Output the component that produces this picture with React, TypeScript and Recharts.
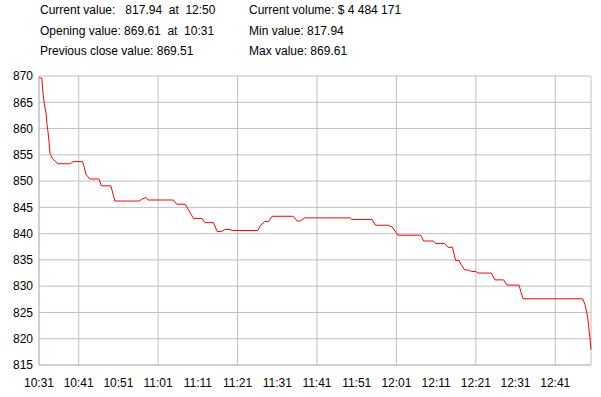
import React from 'react';
import { LineChart, Line, XAxis, YAxis, CartesianGrid } from 'recharts';

// minutes after 10:31 and index value
const minutes = [
  0, 0.7, 1.0, 1.3, 1.8, 2.0, 2.3, 2.5, 2.8, 3.5, 4.8, 7.9, 8.6, 11.0, 11.4, 11.8, 12.8, 15.1, 15.7, 18.1,
  19.1, 25.2, 25.8, 26.9, 27.5, 33.8, 34.7, 36.8, 38.9, 41.0, 41.8, 43.9, 44.9, 45.9, 46.9, 48.1, 48.6, 55.1,
  55.7, 56.8, 57.8, 58.7, 64.0, 65.0, 65.8, 66.9, 78.4, 78.7, 83.9, 84.7, 87.9, 88.9, 90.4, 96.1, 96.9, 99.3,
  99.9, 102.1, 103.0, 104.1, 104.9, 105.8, 106.2, 107.2, 108.0, 108.9, 110.0, 110.6, 113.9, 114.8, 117.0,
  117.8, 120.9, 121.3, 121.9, 136.9, 137.5, 138.2, 138.7, 139,
];

const prices = [
  869.61, 869.61, 866.8, 864.9, 862.8, 860.9, 859.2, 857.6, 855.1, 854.2, 853.3, 853.3, 853.7, 853.7, 852.6,
  851.3, 850.4, 850.4, 849.1, 849.1, 846.2, 846.2, 846.5, 846.9, 846.4, 846.4, 845.6, 845.6, 842.9, 842.9,
  842.1, 842.1, 840.4, 840.4, 840.8, 840.8, 840.6, 840.6, 841.5, 842.3, 842.3, 843.3, 843.3, 842.4, 842.4,
  843.0, 843.0, 842.7, 842.7, 841.6, 841.6, 841.3, 839.7, 839.7, 838.6, 838.6, 838.1, 838.1, 837.4, 837.4,
  834.9, 834.9, 834.2, 833.1, 833.1, 832.8, 832.8, 832.5, 832.5, 831.2, 831.2, 830.2, 830.2, 829.0, 827.6,
  827.6, 826.5, 823.9, 820.4, 817.94,
];

const xTicks = [0, 10, 20, 30, 40, 50, 60, 70, 80, 90, 100, 110, 120, 130];
const xTickLabels = [
  '10:31', '10:41', '10:51', '11:01', '11:11', '11:21', '11:31',
  '11:41', '11:51', '12:01', '12:11', '12:21', '12:31', '12:41',
];
const yTicks = [815, 820, 825, 830, 835, 840, 845, 850, 855, 860, 865, 870];

const infoLeft = [
  'Current value:   817.94  at  12:50',
  'Opening value: 869.61  at  10:31',
  'Previous close value: 869.51',
];
const infoRight = ['Current volume: $ 4 484 171', 'Min value: 817.94', 'Max value: 869.61'];

const data = minutes.map((m, i) => ({ t: m, value: prices[i] }));

const font = '"Liberation Sans", Arial, sans-serif';

export default function App() {
  return (
    <div style={{ position: 'absolute', left: 0, top: 0, width: 601, height: 397, background: '#fff', fontFamily: font }}>
      {infoLeft.map((s, i) => (
        <div
          key={s}
          style={{ position: 'absolute', left: 40, top: 3 + i * 20.5, fontSize: 12, lineHeight: '14px', whiteSpace: 'pre', color: '#000' }}
        >
          {s}
        </div>
      ))}
      {infoRight.map((s, i) => (
        <div
          key={s}
          style={{ position: 'absolute', left: 249, top: 3 + i * 20.5, fontSize: 12, lineHeight: '14px', whiteSpace: 'pre', color: '#000' }}
        >
          {s}
        </div>
      ))}
      <LineChart width={601} height={397} data={data} margin={{ top: 76, right: 10, left: 0, bottom: 2 }}>
        <CartesianGrid stroke="#c0c0c0" />
        <XAxis
          dataKey="t"
          type="number"
          domain={[0, 139]}
          ticks={xTicks}
          tickFormatter={(v) => xTickLabels[xTicks.indexOf(v)] ?? ''}
          stroke="#c0c0c0"
          tickLine={false}
          tickMargin={7}
          height={30}
          tick={{ fill: '#000', fontSize: 12, fontFamily: font }}
        />
        <YAxis
          type="number"
          domain={[815, 870]}
          ticks={yTicks}
          stroke="#c0c0c0"
          tickLine={false}
          tickMargin={0}
          width={39}
          tick={{ fill: '#000', fontSize: 12, fontFamily: font }}
        />
        <Line
          type="linear"
          dataKey="value"
          stroke="#ff0000"
          strokeWidth={1}
          dot={false}
          isAnimationActive={false}
        />
      </LineChart>
    </div>
  );
}
